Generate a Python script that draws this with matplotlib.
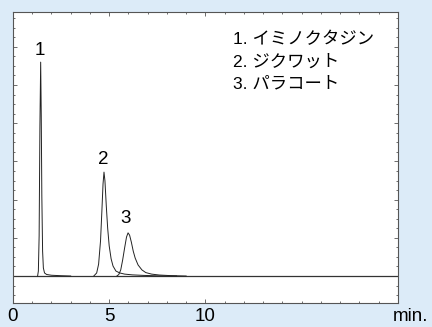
import matplotlib.pyplot as plt
from matplotlib.ticker import MultipleLocator

plt.rcParams['font.family'] = ['Liberation Sans', 'Noto Sans CJK JP', 'DejaVu Sans']

# retention time (min) and detector signal for each peak
peak1_t = [1.28, 1.32, 1.36, 1.40, 1.44, 1.47, 1.50, 1.54, 1.58, 1.64, 1.75, 2.0, 2.5, 3.0]
peak1_y = [0, 1.3, 10.5, 39, 56, 42, 21, 6.5, 2.1, 0.8, 0.4, 0.2, 0.08, 0]

peak2_t = [4.20, 4.35, 4.45, 4.55, 4.62, 4.68, 4.73, 4.78, 4.85, 4.92, 5.00,
           5.10, 5.20, 5.35, 5.55, 5.80, 6.2, 6.8, 7.5, 8.5]
peak2_y = [0, 0.8, 3.1, 9.2, 17, 24.1, 27.2, 24.9, 18.3, 12.6, 7.9,
           4.5, 2.6, 1.3, 0.8, 0.5, 0.3, 0.16, 0.05, 0]

peak3_t = [5.40, 5.50, 5.60, 5.70, 5.80, 5.90, 5.98, 6.06, 6.15, 6.25, 6.35,
           6.50, 6.70, 6.90, 7.20, 7.6, 8.2, 9.0]
peak3_y = [0, 0.4, 1.6, 4.2, 7.3, 10.2, 11.3, 10.7, 8.9, 6.5, 4.7,
           2.9, 1.6, 0.9, 0.5, 0.26, 0.1, 0]

peak_labels = ['1', '2', '3']
label_t = [1.37, 4.69, 5.87]
label_y = [57.9, 29.3, 14.0]

compounds = ['1. イミノクタジン', '2. ジクワット', '3. パラコート']

bg = '#dcebf8'
fig = plt.figure(figsize=(4.32, 3.27), dpi=100, facecolor=bg)
ax = fig.add_axes([0.030, 0.073, 0.891, 0.890])

ax.plot([0, 20], [0, 0], color='#333333', lw=0.9)
for t, y in [(peak1_t, peak1_y), (peak2_t, peak2_y), (peak3_t, peak3_y)]:
    ax.plot(t, y, color='#222222', lw=0.7)

for s, x, y in zip(peak_labels, label_t, label_y):
    ax.text(x, y, s, ha='center', va='baseline', fontsize=13.5)

for i, s in enumerate(compounds):
    ax.text(0.571, 0.906 - i * 0.077, s, transform=ax.transAxes,
            ha='left', va='center', fontsize=12.5)

ax.set_xlim(0, 20)
ax.set_ylim(-7.1, 69.1)
ax.set_xticks([0, 5, 10])
ax.set_xticklabels(['0', '5', '10'], fontsize=13.5)
ax.xaxis.set_minor_locator(MultipleLocator(1))
ax.yaxis.set_major_locator(MultipleLocator(10))
ax.yaxis.set_minor_locator(MultipleLocator(2.5))
ax.tick_params(which='both', direction='in', top=True, right=True,
               color='#555555', width=0.6)
ax.tick_params(which='major', length=3, pad=3.5)
ax.tick_params(which='minor', length=1.5)
ax.tick_params(axis='y', which='both', labelleft=False)
ax.text(1.034, -0.063, 'min.', transform=ax.transAxes, ha='center',
        va='baseline', fontsize=13.5)

for sp in ax.spines.values():
    sp.set_color('#555555')
    sp.set_linewidth(0.8)

fig.savefig('out.png', facecolor=bg)
